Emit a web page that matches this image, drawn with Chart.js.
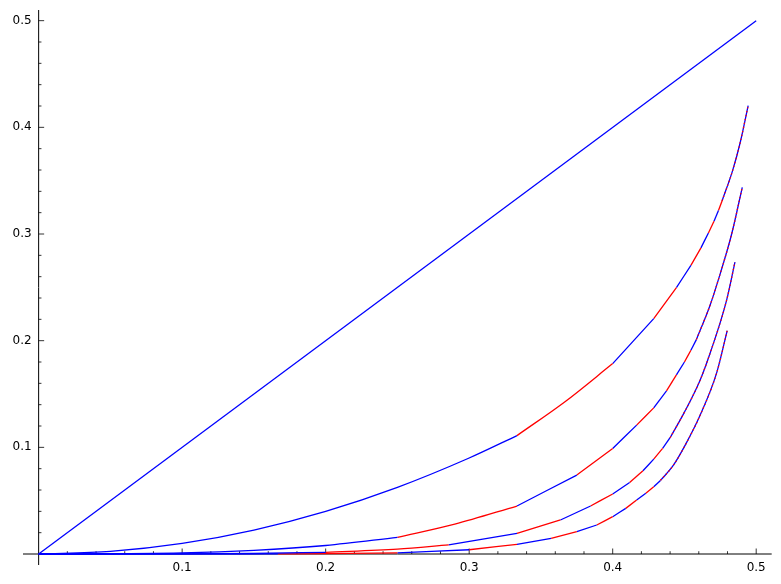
<!DOCTYPE html>
<html>
<head>
<meta charset="utf-8">
<script src="https://cdn.jsdelivr.net/npm/chart.js@4.4.0/dist/chart.umd.min.js"></script>
<style>
  html, body { margin: 0; padding: 0; background: #fff; }
</style>
</head>
<body>
<canvas id="myChart" width="781" height="584"></canvas>
<script>
// straight line
const diagX = [0, 0.5];
const diagY = [0, 0.5];

// curves (x where the colour flips is listed in the *Breaks arrays)
const curve2X = [0, 0.05, 0.1, 0.15, 0.2, 0.25, 0.3, 0.3333, 0.367, 0.4, 0.4286, 0.4444, 0.4545, 0.4615, 0.4667, 0.4706, 0.4737, 0.4762, 0.4836, 0.4889, 0.4944];
const curve2Y = [0, 0.0025, 0.010, 0.0225, 0.040, 0.0625, 0.090, 0.111, 0.143, 0.1785, 0.2207, 0.2497, 0.2706, 0.287, 0.301, 0.312, 0.322, 0.331, 0.3596, 0.386, 0.4204];
const curve2Breaks = [0.3333, 0.4, 0.4286, 0.4444, 0.4545, 0.4615, 0.4667, 0.4706, 0.4737, 0.4762];

const curve3X = [0, 0.1, 0.15, 0.2, 0.25, 0.29, 0.3333, 0.375, 0.4, 0.4167, 0.4286, 0.4375, 0.4444, 0.45, 0.4545, 0.4583, 0.4678, 0.4736, 0.4829, 0.4903];
const curve3Y = [0, 0.001, 0.0034, 0.008, 0.0156, 0.028, 0.045, 0.074, 0.099, 0.1208, 0.137, 0.153, 0.168, 0.180, 0.191, 0.201, 0.233, 0.257, 0.300, 0.3438];
const curve3Breaks = [0.25, 0.3333, 0.375, 0.4, 0.4167, 0.4286, 0.4375, 0.4444, 0.45, 0.4545, 0.4583];

const curve4X = [0, 0.1, 0.15, 0.2, 0.25, 0.2857, 0.3333, 0.3636, 0.3846, 0.4, 0.4118, 0.4211, 0.4286, 0.4348, 0.44, 0.45, 0.4609, 0.4678, 0.4794, 0.4852];
const curve4Y = [0, 0.0001, 0.0005, 0.0016, 0.0045, 0.0085, 0.0194, 0.0319, 0.045, 0.0563, 0.067, 0.078, 0.089, 0.099, 0.109, 0.133, 0.163, 0.188, 0.238, 0.2737];
const curve4Breaks = [0.2, 0.2857, 0.3333, 0.3636, 0.3846, 0.4, 0.4118, 0.4211, 0.4286, 0.4348, 0.44];

const curve5X = [0, 0.1667, 0.2, 0.25, 0.3, 0.3333, 0.3571, 0.375, 0.3889, 0.4, 0.4091, 0.4167, 0.4231, 0.4286, 0.4333, 0.4422, 0.4509, 0.4609, 0.4725, 0.4798];
const curve5Y = [0, 0.0001, 0.0003, 0.001, 0.004, 0.0091, 0.0146, 0.0209, 0.0272, 0.035, 0.0428, 0.0506, 0.0569, 0.063, 0.069, 0.083, 0.103, 0.130, 0.170, 0.2094];
const curve5Breaks = [0.1667, 0.25, 0.3, 0.3333, 0.3571, 0.375, 0.3889, 0.4, 0.4091, 0.4167, 0.4231, 0.4286, 0.4333];

const tickValues = [0.1, 0.2, 0.3, 0.4, 0.5];
const tickLabels = ['0.1', '0.2', '0.3', '0.4', '0.5'];
const minorStep = 0.02;

const BLUE = 'rgb(0,0,255)';
const RED = 'rgb(255,0,0)';

function pointsBetween(xs, ys, a, b) {
  let pts = [];
  xs.forEach(function(x, i) {
    if (x >= a - 1e-9 && x <= b + 1e-9) pts.push({x: x, y: ys[i]});
  });
  return pts;
}

let datasets = [{
  data: pointsBetween(diagX, diagY, 0, 1),
  borderColor: BLUE,
  order: 1
}];

[[curve2X, curve2Y, curve2Breaks], [curve3X, curve3Y, curve3Breaks],
 [curve4X, curve4Y, curve4Breaks], [curve5X, curve5Y, curve5Breaks]].forEach(function(c) {
  let xs = c[0], ys = c[1];
  let edges = [0].concat(c[2]);
  // one piece per interval, blue and red by turns
  edges.forEach(function(a, k) {
    let isTail = (k === edges.length - 1);
    let b = isTail ? 1 : edges[k + 1];
    let pts = pointsBetween(xs, ys, a, b);
    datasets.push({
      data: pts,
      borderColor: (k % 2 === 0 || isTail) ? BLUE : RED,
      cubicInterpolationMode: 'monotone',
      order: 1
    });
    // the end flips too often to list: red dashes over the blue
    if (isTail) {
      datasets.push({
        data: pts,
        borderColor: RED,
        borderDash: [1.5, 2.5],
        cubicInterpolationMode: 'monotone',
        order: 0
      });
    }
  });
});

// axes through the origin, sage style
const originAxes = {
  id: 'originAxes',
  beforeDatasetsDraw: function(chart) {
    let ctx = chart.ctx;
    let area = chart.chartArea;
    let xs = chart.scales.x, ys = chart.scales.y;
    let x0 = xs.getPixelForValue(0), y0 = ys.getPixelForValue(0);
    ctx.save();
    ctx.strokeStyle = '#000';
    ctx.lineWidth = 1;
    ctx.beginPath();
    ctx.moveTo(area.left, y0); ctx.lineTo(area.right, y0);
    ctx.moveTo(x0, area.top); ctx.lineTo(x0, area.bottom);
    ctx.stroke();

    ctx.lineWidth = 0.8;
    ctx.beginPath();
    for (let k = 1; k * minorStep < 0.5 + 1e-9; k++) {
      let v = k * minorStep;
      let major = tickValues.some(t => Math.abs(t - v) < 1e-9);
      let len = major ? 5.5 : 2.8;
      let px = xs.getPixelForValue(v);
      ctx.moveTo(px, y0); ctx.lineTo(px, y0 - len);
      let py = ys.getPixelForValue(v);
      ctx.moveTo(x0, py); ctx.lineTo(x0 + len, py);
    }
    ctx.stroke();

    ctx.fillStyle = '#000';
    ctx.font = '12px "DejaVu Sans"';
    ctx.textAlign = 'center';
    ctx.textBaseline = 'top';
    tickValues.forEach(function(v, i) {
      ctx.fillText(tickLabels[i], xs.getPixelForValue(v), y0 + 8);
    });
    ctx.textAlign = 'right';
    ctx.textBaseline = 'middle';
    tickValues.forEach(function(v, i) {
      ctx.fillText(tickLabels[i], x0 - 7, ys.getPixelForValue(v));
    });
    ctx.restore();
  }
};

new Chart(document.getElementById('myChart'), {
  type: 'scatter',
  data: { datasets: datasets },
  options: {
    responsive: false,
    animation: false,
    showLine: true,
    layout: { padding: { left: 23, right: 9.3, top: 10, bottom: 19 } },
    elements: {
      point: { radius: 0, hoverRadius: 0 },
      line: { borderWidth: 1.3, fill: false }
    },
    scales: {
      x: { type: 'linear', min: -0.0109, max: 0.5108, display: false },
      y: { type: 'linear', min: -0.0103, max: 0.51, display: false }
    },
    plugins: { legend: { display: false }, tooltip: { enabled: false } }
  },
  plugins: [originAxes]
});
</script>
</body>
</html>
